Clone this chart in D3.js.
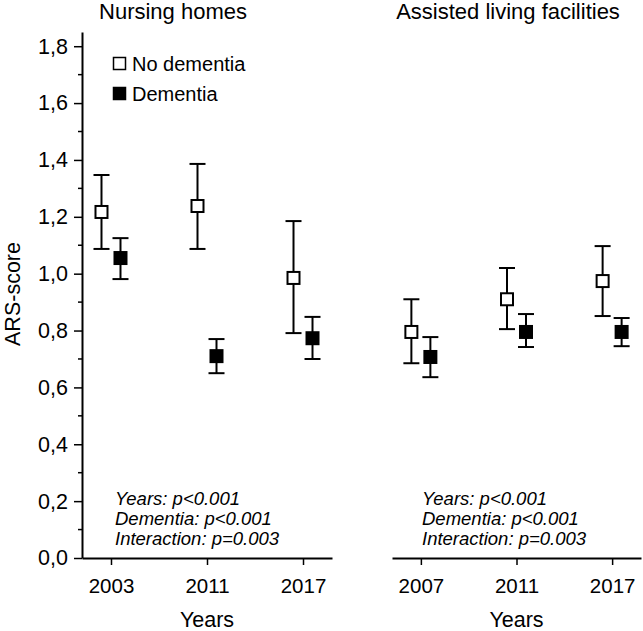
<!DOCTYPE html>
<html><head><meta charset="utf-8">
<script src="https://cdn.jsdelivr.net/npm/d3@7"></script>
<style>body{margin:0;background:#fff}svg{display:block}text{font-family:"Liberation Sans",Arial,sans-serif}</style>
</head><body>
<svg id="c" width="643" height="631"></svg>
<script>
// Data
const panels = ["Nursing homes", "Assisted living facilities"];
const yearsNH = ["2003", "2011", "2017"];
const yearsALF = ["2007", "2011", "2017"];
const series = ["No dementia", "Dementia"];
// mean, lower, upper
const nhNoDem = [[1.217, 1.087, 1.347], [1.238, 1.087, 1.386], [0.985, 0.791, 1.185]];
const nhDem = [[1.055, 0.981, 1.125], [0.710, 0.650, 0.770], [0.773, 0.700, 0.848]];
const alfNoDem = [[0.795, 0.685, 0.910], [0.910, 0.805, 1.020], [0.974, 0.851, 1.097]];
const alfDem = [[0.707, 0.636, 0.777], [0.795, 0.742, 0.858], [0.795, 0.745, 0.844]];
const yTicks = [0, 0.2, 0.4, 0.6, 0.8, 1.0, 1.2, 1.4, 1.6, 1.8];
const yMinor = [0.1, 0.3, 0.5, 0.7, 0.9, 1.1, 1.3, 1.5, 1.7];
const stats = ["Years: p<0.001", "Dementia: p<0.001", "Interaction: p=0.003"];

const svg = d3.select("#c");
const y = d3.scaleLinear().domain([0, 1.85]).range([558, 32]);
const fmt = d3.formatLocale({decimal: ",", thousands: ".", grouping: [3], currency: ["", ""]}).format(".1f");

// Y axis
const gy = svg.append("g").attr("transform", "translate(82,0)")
  .call(d3.axisLeft(y).tickValues(yTicks).tickFormat(fmt).tickSize(8).tickSizeOuter(0).tickPadding(6));
gy.selectAll("text").attr("font-size", 21.5).attr("fill", "#000");
gy.select(".domain").attr("stroke-width", 2);
gy.selectAll(".tick line").attr("stroke-width", 1.5);
gy.selectAll(".minor").data(yMinor).enter().append("line")
  .attr("x1", -4).attr("x2", 0).attr("y1", d => y(d)).attr("y2", d => y(d))
  .attr("stroke", "#000").attr("stroke-width", 1.5);

svg.append("text").attr("transform", "translate(20,294) rotate(-90)")
  .attr("text-anchor", "middle").attr("font-size", 21.5).text("ARS-score");

const panelDefs = [
  {title: panels[0], years: yearsNH, nd: nhNoDem, d: nhDem, range: [82, 332], statX: 115, titleX: 173},
  {title: panels[1], years: yearsALF, nd: alfNoDem, d: alfDem, range: [392, 641], statX: 422, titleX: 508}
];

const sq = 12, cap = 16;
panelDefs.forEach(p => {
  const x = d3.scalePoint().domain(p.years).range(p.range).padding(0.302);
  const gx = svg.append("g").attr("transform", "translate(0,558)")
    .call(d3.axisBottom(x).tickSize(7).tickSizeOuter(0).tickPadding(13));
  gx.selectAll("text").attr("font-size", 20.5).attr("fill", "#000");
  gx.select(".domain").attr("stroke-width", 2);
  gx.selectAll(".tick line").attr("stroke-width", 1.5);

  svg.append("text").attr("x", x(p.years[1])).attr("y", 627).attr("text-anchor", "middle")
    .attr("font-size", 21.5).text("Years");
  svg.append("text").attr("x", p.titleX).attr("y", 19).attr("text-anchor", "middle")
    .attr("font-size", 22).text(p.title);

  [[p.nd, -9.5, "#fff"], [p.d, 9.5, "#000"]].forEach(([vals, dx, fill]) => {
    const g = svg.append("g");
    vals.forEach((v, i) => {
      const px = x(p.years[i]) + dx;
      g.append("line").attr("x1", px).attr("x2", px).attr("y1", y(v[1])).attr("y2", y(v[2]))
        .attr("stroke", "#000").attr("stroke-width", 2);
      [v[1], v[2]].forEach(e => g.append("line").attr("x1", px - cap / 2).attr("x2", px + cap / 2)
        .attr("y1", y(e)).attr("y2", y(e)).attr("stroke", "#000").attr("stroke-width", 2));
      g.append("rect").attr("x", px - sq / 2).attr("y", y(v[0]) - sq / 2).attr("width", sq).attr("height", sq)
        .attr("fill", fill).attr("stroke", "#000").attr("stroke-width", 2);
    });
  });

  stats.forEach((s, i) => svg.append("text").attr("x", p.statX).attr("y", 505 + i * 20)
    .attr("font-size", 18.5).attr("font-style", "italic").text(s));
});

// Legend
[["#fff", series[0], 63.5], ["#000", series[1], 93.5]].forEach(([fill, label, ly]) => {
  svg.append("rect").attr("x", 113.5).attr("y", ly - 6).attr("width", 12).attr("height", 12)
    .attr("fill", fill).attr("stroke", "#000").attr("stroke-width", 1.5);
  svg.append("text").attr("x", 132).attr("y", ly + 7.5).attr("font-size", 20).text(label);
});
</script>
</body></html>
